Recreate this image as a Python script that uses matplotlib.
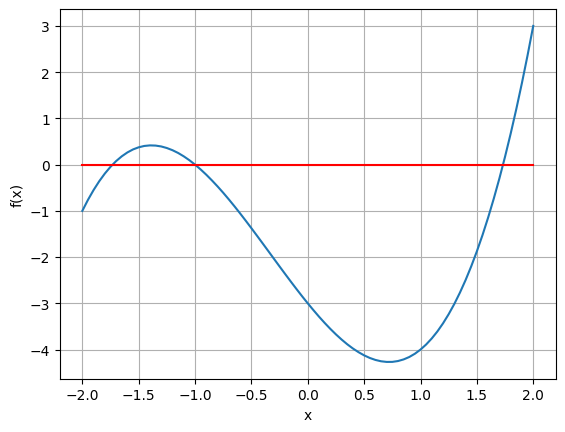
import matplotlib
matplotlib.use("Agg")
import matplotlib.pyplot as plt

# x values and f(x) (step 0.05)
xs = [-2.0, -1.95, -1.9, -1.85, -1.8, -1.75, -1.7, -1.65, -1.6, -1.55,
      -1.5, -1.45, -1.4, -1.35, -1.3, -1.25, -1.2, -1.15, -1.1, -1.05,
      -1.0, -0.95, -0.9, -0.85, -0.8, -0.75, -0.7, -0.65, -0.6, -0.55,
      -0.5, -0.45, -0.4, -0.35, -0.3, -0.25, -0.2, -0.15, -0.1, -0.05,
      0.0, 0.05, 0.1, 0.15, 0.2, 0.25, 0.3, 0.35, 0.4, 0.45,
      0.5, 0.55, 0.6, 0.65, 0.7, 0.75, 0.8, 0.85, 0.9, 0.95,
      1.0, 1.05, 1.1, 1.15, 1.2, 1.25, 1.3, 1.35, 1.4, 1.45,
      1.5, 1.55, 1.6, 1.65, 1.7, 1.75, 1.8, 1.85, 1.9, 1.95, 2.0]
fx = [-1.0, -0.762, -0.549, -0.359, -0.192, -0.047, 0.077, 0.180, 0.264, 0.329,
      0.375, 0.404, 0.416, 0.412, 0.393, 0.359, 0.312, 0.252, 0.179, 0.095,
      0.0, -0.105, -0.219, -0.342, -0.472, -0.609, -0.753, -0.902, -1.056, -1.214,
      -1.375, -1.539, -1.704, -1.870, -2.037, -2.203, -2.368, -2.531, -2.691, -2.848,
      -3.0, -3.147, -3.289, -3.424, -3.552, -3.672, -3.783, -3.885, -3.976, -4.056,
      -4.125, -4.181, -4.224, -4.253, -4.267, -4.266, -4.248, -4.213, -4.161, -4.090,
      -4.0, -3.890, -3.759, -3.607, -3.432, -3.234, -3.013, -2.767, -2.496, -2.199,
      -1.875, -1.524, -1.144, -0.735, -0.297, 0.172, 0.672, 1.204, 1.769, 2.367, 3.0]

# horizontal zero line
zero_x = [-2.0, 2.0]
zero_y = [0.0, 0.0]

plt.plot(xs, fx)
plt.plot(zero_x, zero_y, color="red")
plt.xlabel("x")
plt.ylabel("f(x)")
plt.grid()
plt.savefig("out.png", bbox_inches="tight")
